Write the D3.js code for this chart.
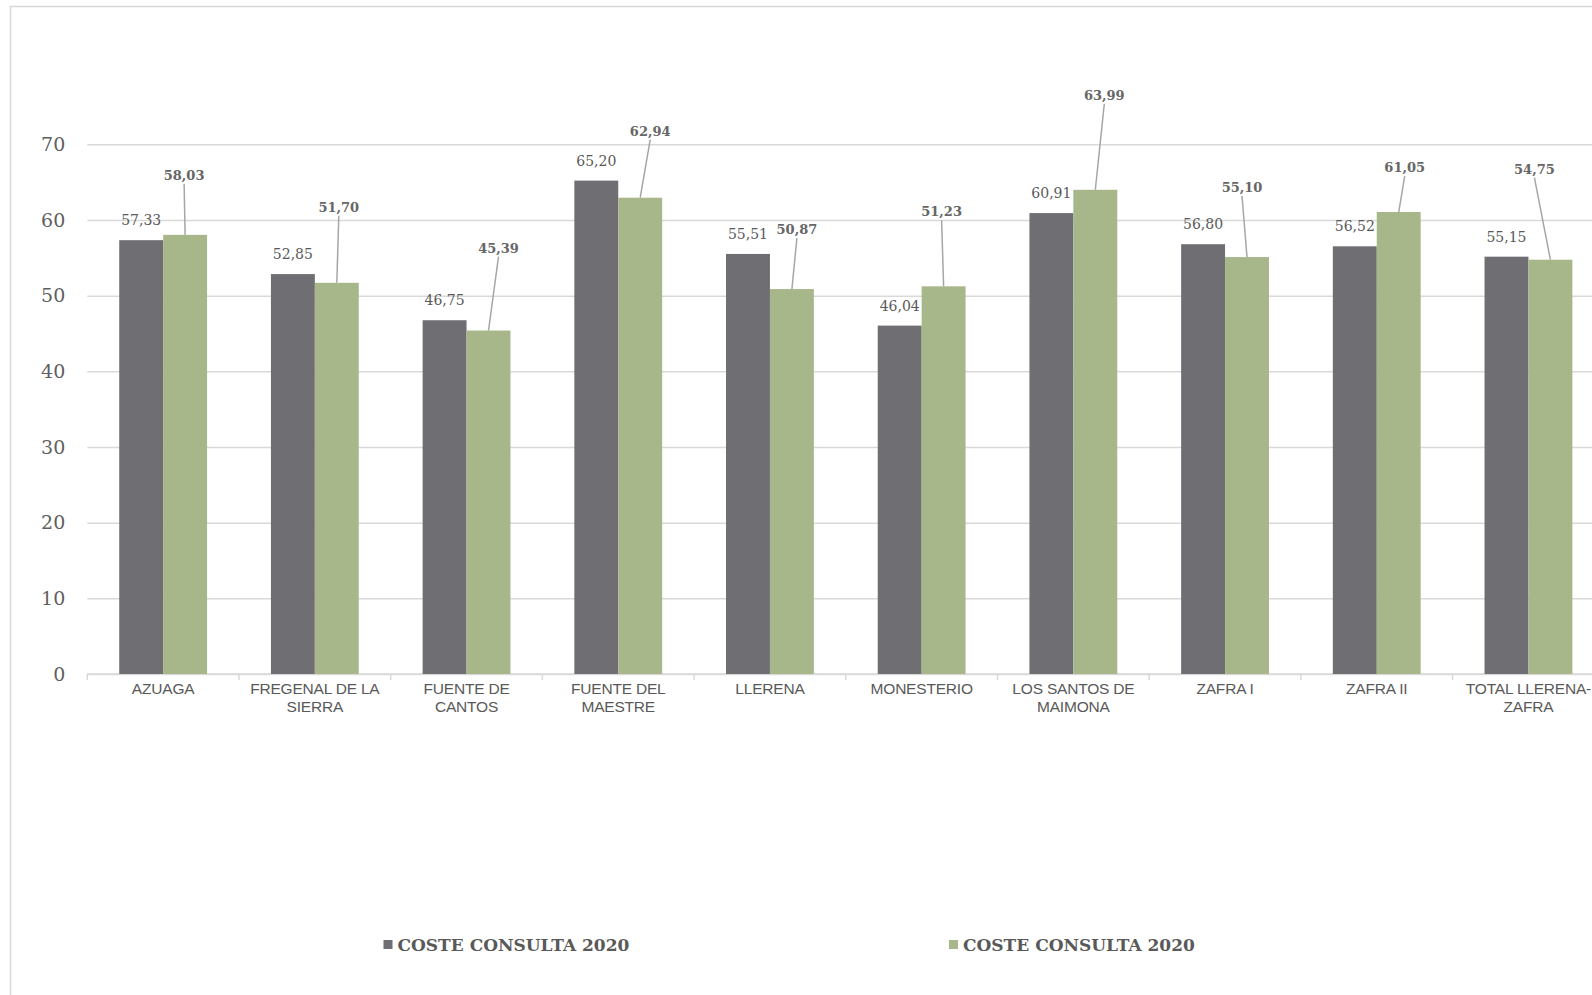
<!DOCTYPE html>
<html>
<head>
<meta charset="utf-8">
<script src="https://cdn.jsdelivr.net/npm/d3@7/dist/d3.min.js"></script>
<style>
  html, body { margin: 0; padding: 0; background: #fff; overflow: hidden; }
  svg { display: block; }
</style>
</head>
<body>
<svg id="chart" width="1592" height="995"></svg>
<script>
const categories = [
  ["AZUAGA"],
  ["FREGENAL DE LA", "SIERRA"],
  ["FUENTE DE", "CANTOS"],
  ["FUENTE DEL", "MAESTRE"],
  ["LLERENA"],
  ["MONESTERIO"],
  ["LOS SANTOS DE", "MAIMONA"],
  ["ZAFRA I"],
  ["ZAFRA II"],
  ["TOTAL LLERENA-", "ZAFRA"]
];
const seriesNames = ["COSTE CONSULTA 2020", "COSTE CONSULTA 2020"];
const seriesA = [57.33, 52.85, 46.75, 65.20, 55.51, 46.04, 60.91, 56.80, 56.52, 55.15];
const seriesB = [58.03, 51.70, 45.39, 62.94, 50.87, 51.23, 63.99, 55.10, 61.05, 54.75];
const yTicks = [0, 10, 20, 30, 40, 50, 60, 70];
// callout label offsets for series B (px relative to bar top centre)
const calloutDx = [-1, 2, 10, 10, 5, -2, 9, -5, 6, -16];
const calloutDy = [60, 76, 83, 67, 60, 75, 95, 70, 45, 91];

const colors = ["#6f6e73", "#a7b78a"];
const textColor = "#595959";
const fmt = v => v.toFixed(2).replace(".", ",");

const svg = d3.select("#chart");

// outer chart border
svg.append("rect")
  .attr("x", 10.5).attr("y", 6.5)
  .attr("width", 1700).attr("height", 1100)
  .attr("fill", "none").attr("stroke", "#d9d9d9").attr("stroke-width", 1.5);

const left = 87.3, step = 151.7;
const keys = categories.map(c => c.join(" "));
const x = d3.scaleBand().domain(keys)
  .range([left, left + step * keys.length])
  .paddingInner(0.421).paddingOuter(0.2105);
const x1 = d3.scaleBand().domain([0, 1]).range([0, x.bandwidth()]);
const y = d3.scaleLinear().domain([0, 70]).range([674, 144.3]);

const right = 1600;

// gridlines + y labels
const yAxis = svg.append("g")
  .attr("transform", `translate(${left},0)`)
  .call(d3.axisLeft(y).tickValues(yTicks).tickSize(-(right - left)).tickPadding(22));
yAxis.select(".domain").remove();
yAxis.selectAll(".tick line").attr("stroke", "#d9d9d9").attr("stroke-width", 1.5);
yAxis.selectAll(".tick text")
  .attr("fill", "#5f5f5f")
  .attr("font-family", "'DejaVu Serif', serif")
  .attr("font-size", 19);

// x axis line and ticks at band boundaries
const boundaries = keys.map(k => x(k) - x.step() * x.paddingInner() / 2);
svg.append("line")
  .attr("x1", left).attr("x2", right)
  .attr("y1", y(0)).attr("y2", y(0))
  .attr("stroke", "#d9d9d9").attr("stroke-width", 1.5);
svg.append("g").selectAll("line").data(boundaries).join("line")
  .attr("x1", d => d).attr("x2", d => d)
  .attr("y1", y(0)).attr("y2", y(0) + 6)
  .attr("stroke", "#d9d9d9").attr("stroke-width", 1.5);

// bars
const groups = svg.append("g").selectAll("g").data(keys).join("g")
  .attr("transform", d => `translate(${x(d)},0)`);
groups.append("rect")
  .attr("x", x1(0)).attr("width", x1.bandwidth())
  .attr("y", (d, i) => y(seriesA[i]))
  .attr("height", (d, i) => y(0) - y(seriesA[i]))
  .attr("fill", colors[0]);
groups.append("rect")
  .attr("x", x1(1)).attr("width", x1.bandwidth())
  .attr("y", (d, i) => y(seriesB[i]))
  .attr("height", (d, i) => y(0) - y(seriesB[i]))
  .attr("fill", colors[1]);

// series A labels
groups.append("text")
  .attr("x", x1(0) + x1.bandwidth() / 2)
  .attr("y", (d, i) => y(seriesA[i]) - 15)
  .attr("text-anchor", "middle")
  .attr("fill", textColor)
  .attr("font-family", "'DejaVu Serif', serif")
  .attr("font-size", 14)
  .text((d, i) => fmt(seriesA[i]));

// series B callouts
const bx = x1(1) + x1.bandwidth() / 2;
groups.append("line")
  .attr("x1", bx).attr("y1", (d, i) => y(seriesB[i]))
  .attr("x2", (d, i) => bx + calloutDx[i])
  .attr("y2", (d, i) => y(seriesB[i]) - calloutDy[i] + 9)
  .attr("stroke", "#a6a6a6").attr("stroke-width", 1.5);
groups.append("text")
  .attr("x", (d, i) => bx + calloutDx[i])
  .attr("y", (d, i) => y(seriesB[i]) - calloutDy[i] + 5)
  .attr("text-anchor", "middle")
  .attr("fill", "#666666")
  .attr("font-family", "'DejaVu Serif', serif")
  .attr("font-weight", "bold")
  .attr("font-size", 13)
  .text((d, i) => fmt(seriesB[i]));

// category labels
groups.append("text")
  .attr("x", x.bandwidth() / 2)
  .attr("y", 694)
  .attr("text-anchor", "middle")
  .attr("fill", textColor)
  .attr("font-family", "'Liberation Sans', Arial, sans-serif")
  .attr("font-size", 15.5)
  .attr("letter-spacing", -0.2)
  .selectAll("tspan").data((d, i) => categories[i]).join("tspan")
  .attr("x", x.bandwidth() / 2)
  .attr("dy", (d, j) => j === 0 ? 0 : 17.5)
  .text(d => d);

// legend
const legendX = [383.5, 949];
const legend = svg.append("g").selectAll("g").data(seriesNames).join("g")
  .attr("transform", (d, i) => `translate(${legendX[i]},945)`);
legend.append("rect")
  .attr("x", 0).attr("y", -5).attr("width", 9).attr("height", 9)
  .attr("fill", (d, i) => colors[i]);
legend.append("text")
  .attr("x", 14).attr("y", 6)
  .attr("fill", textColor)
  .attr("font-family", "'DejaVu Serif', serif")
  .attr("font-weight", "bold")
  .attr("font-size", 17)
  .text(d => d);
</script>
</body>
</html>
